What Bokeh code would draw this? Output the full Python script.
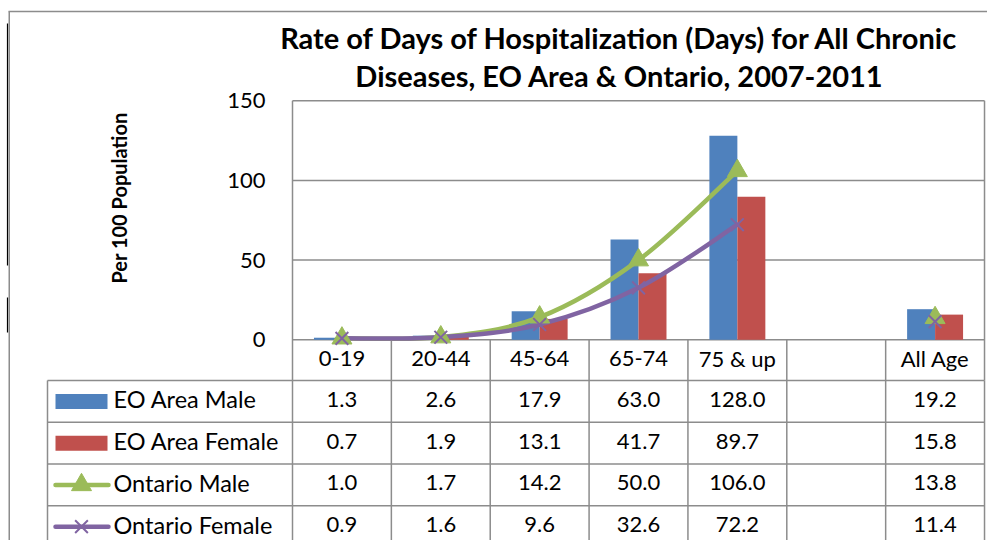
import math
from bokeh.plotting import figure
from bokeh.models import Range1d, FixedTicker, LinearAxis
from bokeh.embed import file_html
from bokeh.resources import INLINE
from bokeh.core.properties import value

# ---------------- data ----------------
categories = ["0-19", "20-44", "45-64", "65-74", "75 & up", "", "All Age"]
eo_male = [1.3, 2.6, 17.9, 63.0, 128.0, None, 19.2]
eo_female = [0.7, 1.9, 13.1, 41.7, 89.7, None, 15.8]
on_male = [1.0, 1.7, 14.2, 50.0, 106.0, None, 13.8]
on_female = [0.9, 1.6, 9.6, 32.6, 72.2, None, 11.4]
series_names = ["EO Area Male", "EO Area Female", "Ontario Male", "Ontario Female"]
y_ticks = [0, 50, 100, 150]
title_lines = ["Rate of Days of Hospitalization (Days) for All Chronic",
               "Diseases, EO Area & Ontario, 2007-2011"]
y_title = "Per 100 Population"

# ---------------- style / geometry ----------------
BLUE, RED, GREEN, PURPLE = "#4F81BD", "#C0504D", "#9BBB59", "#8064A2"
GRAY = "#8c8c8c"
FONT = "Lato"
W, H = 987, 540
N = len(categories)
COL_W = 98.86        # px per category
PXU = 1.594          # px per value unit
Y0 = 339.3           # canvas y of value 0
PLOT_L = 292         # canvas x of plot area left
HEADER_B = 380       # canvas y of header row bottom
ROW_H = 41.75
LEG_L = 47           # canvas x of table legend column left
TXT_DY = 2.0         # visual centring correction for "middle" text (px)

def wx(px):  # canvas x -> category units
    return (px - PLOT_L) / COL_W

def wy(py):  # canvas y -> value units
    return (Y0 - py) / PXU

p = figure(width=W, height=H, x_range=Range1d(wx(0), wx(W)), y_range=Range1d(wy(H), wy(0)),
           min_border_left=0, min_border_right=0, min_border_top=0, min_border_bottom=0,
           x_axis_location=None, y_axis_location=None, toolbar_location=None,
           output_backend="svg", title=None)
p.outline_line_color = None
p.background_fill_color = "white"
p.border_fill_color = "white"
p.xgrid.visible = False
p.ygrid.visible = False

# outer chart border (top / left) and screenshot edge line
p.segment(x0=[wx(8), wx(8.75)], y0=[wy(11), wy(11)], x1=[wx(W), wx(8.75)], y1=[wy(11), wy(H)],
          line_color=GRAY, line_width=1.5)
p.segment(x0=[wx(7), wx(7)], y0=[wy(23), wy(297)], x1=[wx(7), wx(7)], y1=[wy(265), wy(332)],
          line_color="black", line_width=1.2)

# y axis inside the frame at the plot-area edge
ax = LinearAxis(fixed_location=0, ticker=FixedTicker(ticks=y_ticks))
ax.axis_line_color = None
ax.major_tick_line_color = None
ax.minor_tick_line_color = None
ax.major_tick_out = 0
ax.major_tick_in = 0
ax.major_label_standoff = 27
ax.major_label_text_font = FONT
ax.major_label_text_font_size = "22px"
ax.major_label_text_color = "black"
p.add_layout(ax, "left")

y_hdr = wy(HEADER_B)
# gridlines (from the tick values) and plot area / header border
p.segment(x0=[0] * len(y_ticks), y0=y_ticks, x1=[N] * len(y_ticks), y1=y_ticks,
          line_color=GRAY, line_width=1.5)
p.segment(x0=[0, N], y0=[y_ticks[-1]] * 2, x1=[0, N], y1=[y_hdr] * 2, line_color=GRAY, line_width=1.5)
bounds = list(range(1, N))
p.segment(x0=bounds, y0=[y_hdr] * len(bounds), x1=bounds, y1=[0] * len(bounds),
          line_color=GRAY, line_width=1.5)
p.text(x=[i + 0.5 for i in range(N)], y=[y_hdr / 2 + TXT_DY / PXU] * N, text=categories,
       text_align="center", text_baseline="middle", text_font=value(FONT),
       text_font_size="22px", text_color="black")

# bars
BW = 0.283
idx = [i for i in range(N) if eo_male[i] is not None]
p.vbar(x=[i + 0.5 - BW / 2 for i in idx], top=[eo_male[i] for i in idx], bottom=0, width=BW,
       fill_color=BLUE, line_color=None)
p.vbar(x=[i + 0.5 + BW / 2 for i in idx], top=[eo_female[i] for i in idx], bottom=0, width=BW,
       fill_color=RED, line_color=None)

# smoothed lines over the contiguous age groups
def smooth(xs, ys):
    P = list(zip(xs, ys))
    n = len(P)
    out = {k: [] for k in ("x0", "y0", "x1", "y1", "cx0", "cy0", "cx1", "cy1")}
    for i in range(n - 1):
        p0 = P[i - 1] if i > 0 else P[i]
        p1, p2 = P[i], P[i + 1]
        p3 = P[i + 2] if i + 2 < n else P[i + 1]
        out["x0"].append(p1[0]); out["y0"].append(p1[1])
        out["x1"].append(p2[0]); out["y1"].append(p2[1])
        out["cx0"].append(p1[0] + (p2[0] - p0[0]) / 6); out["cy0"].append(p1[1] + (p2[1] - p0[1]) / 6)
        out["cx1"].append(p2[0] - (p3[0] - p1[0]) / 6); out["cy1"].append(p2[1] - (p3[1] - p1[1]) / 6)
    return out

run = list(range(5))
for ser, col in ((on_male, GREEN), (on_female, PURPLE)):
    b = smooth([i + 0.5 for i in run], [ser[i] for i in run])
    p.bezier(**b, line_color=col, line_width=4.5, line_cap="round")

p.scatter(x=[i + 0.5 for i in idx], y=[on_male[i] for i in idx], marker="triangle", size=20,
          fill_color=GREEN, line_color=GREEN)
p.scatter(x=[i + 0.5 for i in idx], y=[on_female[i] for i in idx], marker="x", size=18,
          line_color=PURPLE, line_width=2)

# titles
p.text(x=[wx(619)] * 2, y=[wy(36.5), wy(74.5)], text=title_lines, text_align="center",
       text_baseline="middle", text_font=value(FONT), text_font_size="29px",
       text_font_style="bold", text_color="black")
p.text(x=[wx(118.5)], y=[wy(197.5)], text=[y_title], angle=math.pi / 2, text_align="center",
       text_baseline="middle", text_font=value(FONT), text_font_size="20px",
       text_font_style="bold", text_color="black")

# ---------------- data table ----------------
rows = len(series_names)
row_y = [wy(HEADER_B + r * ROW_H) for r in range(rows + 1)]
row_mid = [wy(HEADER_B + (r + 0.5) * ROW_H) for r in range(rows)]
txt_mid = [wy(HEADER_B + (r + 0.5) * ROW_H - TXT_DY) for r in range(rows)]
xl = wx(LEG_L)
p.segment(x0=[xl] * (rows + 1), y0=row_y, x1=[N] * (rows + 1), y1=row_y, line_color=GRAY, line_width=1.5)
vx = [xl] + list(range(N + 1))
p.segment(x0=vx, y0=[row_y[0]] * len(vx), x1=vx, y1=[row_y[-1]] * len(vx), line_color=GRAY, line_width=1.5)

kx = wx(81)
p.rect(x=[kx, kx], y=row_mid[:2], width=52 / COL_W, height=15 / PXU, fill_color=[BLUE, RED], line_color=None)
p.segment(x0=[wx(55)] * 2, y0=row_mid[2:], x1=[wx(108)] * 2, y1=row_mid[2:],
          line_color=[GREEN, PURPLE], line_width=4.5, line_cap="round")
p.scatter(x=[kx], y=[row_mid[2]], marker="triangle", size=20, fill_color=GREEN, line_color=GREEN)
p.scatter(x=[kx], y=[row_mid[3]], marker="x", size=18, line_color=PURPLE, line_width=2)
p.text(x=[wx(113)] * rows, y=txt_mid, text=series_names,
       text_align="left", text_baseline="middle", text_font=value(FONT), text_font_size="23.5px",
       text_color="black")

tx, ty, tt = [], [], []
for r, ser in enumerate((eo_male, eo_female, on_male, on_female)):
    for i, v in enumerate(ser):
        if v is None:
            continue
        tx.append(i + 0.5); ty.append(txt_mid[r]); tt.append(f"{v:.1f}")
p.text(x=tx, y=ty, text=tt, text_align="center", text_baseline="middle", text_font=value(FONT),
       text_font_size="22px", text_color="black")

open("out.html", "w").write(file_html(p, INLINE))
